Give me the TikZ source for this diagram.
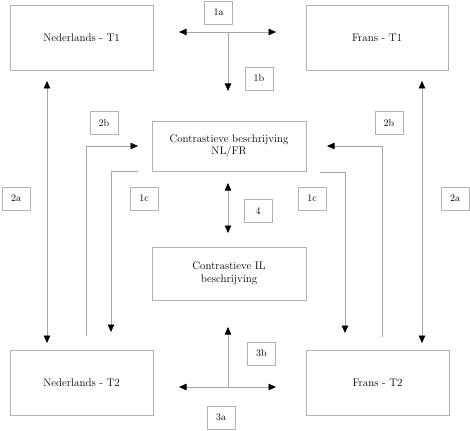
\documentclass[tikz,border=0pt]{standalone}
\usepackage{tikz}
\usetikzlibrary{arrows.meta}
\tikzset{
  font={\fontsize{11pt}{12.5}\selectfont},
  tip/.style={Triangle[width=6.5pt,length=7.5pt,color=black]},
  bigbox/.style={draw=gray!60,line width=0.7pt,align=center,inner sep=0pt},
  tagbox/.style={draw=gray!60,line width=0.7pt,minimum width=28pt,minimum height=23pt,inner sep=0pt,font={\fontsize{10pt}{11}\selectfont}},
  link/.style={draw=gray!70,line width=0.7pt,-{Triangle[width=6.5pt,length=7.5pt,color=black]}},
  dlink/.style={draw=gray!70,line width=0.7pt,{Triangle[width=6.5pt,length=7.5pt,color=black]}-{Triangle[width=6.5pt,length=7.5pt,color=black]}}}

\begin{document}
\begin{tikzpicture}[x=1pt,y=-1pt]
\tikzstyle{every node}+=[inner sep=0pt]
\useasboundingbox (0,0) rectangle (470,430);
% main boxes
\node [bigbox,minimum width=143pt,minimum height=65pt] (nlone) at (81.5,37.5) {Nederlands - T1};
\node [bigbox,minimum width=142pt,minimum height=65pt] (frone) at (377,37.5) {Frans - T1};
\node [bigbox,minimum width=154pt,minimum height=50pt] (contr) at (229,146) {Contrastieve beschrijving\\NL/FR};
\node [bigbox,minimum width=154pt,minimum height=53pt] (contril) at (229,273.5) {Contrastieve IL\\beschrijving};
\node [bigbox,minimum width=143pt,minimum height=65pt] (nltwo) at (81.5,382.5) {Nederlands - T2};
\node [bigbox,minimum width=143pt,minimum height=65pt] (frtwo) at (377.5,382.5) {Frans - T2};
% tags
\node [tagbox] (tonea) at (218.5,12.5) {1a};
\node [tagbox] (toneb) at (259,78.5) {1b};
\node [tagbox] (ttwobl) at (104,123) {2b};
\node [tagbox] (ttwobr) at (389,123) {2b};
\node [tagbox] (tonecl) at (144,198.5) {1c};
\node [tagbox] (tonecr) at (312,198.5) {1c};
\node [tagbox] (ttwoal) at (16,198.5) {2a};
\node [tagbox] (ttwoar) at (455,198.5) {2a};
\node [tagbox] (tfour) at (258,211) {4};
\node [tagbox] (tthreeb) at (261.5,353.5) {3b};
\node [tagbox] (tthreea) at (221,417.5) {3a};
% free ends
\coordinate (onel) at (179,32);
\coordinate (oner) at (276,32);
\coordinate (onem) at (228,32);
\coordinate (oned) at (228,91);
\coordinate (twoalt) at (47,81);
\coordinate (twoalb) at (47,343);
\coordinate (twoart) at (422,81);
\coordinate (twoarb) at (422,343);
\coordinate (twoblb) at (86,336);
\coordinate (twoblt) at (86,146);
\coordinate (twoble) at (138,146);
\coordinate (twobrb) at (382,337);
\coordinate (twobrt) at (382,146);
\coordinate (twobre) at (327,146);
\coordinate (onecls) at (138,171);
\coordinate (onecle) at (111,332);
\coordinate (onecrs) at (320,172);
\coordinate (onecre) at (345,333);
\coordinate (fourt) at (228,183);
\coordinate (fourb) at (228,233);
\coordinate (threel) at (179,387);
\coordinate (threer) at (276,387);
\coordinate (threem) at (228,387);
\coordinate (threeu) at (228,327);
% connectors
\draw [dlink] (onel) -- (oner);
\draw [link] (onem) -- (oned);
\draw [dlink] (twoalt) -- (twoalb);
\draw [dlink] (twoart) -- (twoarb);
\draw [link] (twoblb) -- (twoblt) -- (twoble);
\draw [link] (twobrb) -- (twobrt) -- (twobre);
\draw [link] (onecls) -| (onecle);
\draw [link] (onecrs) -| (onecre);
\draw [dlink] (fourt) -- (fourb);
\draw [dlink] (threel) -- (threer);
\draw [link] (threem) -- (threeu);
\end{tikzpicture}
\end{document}
